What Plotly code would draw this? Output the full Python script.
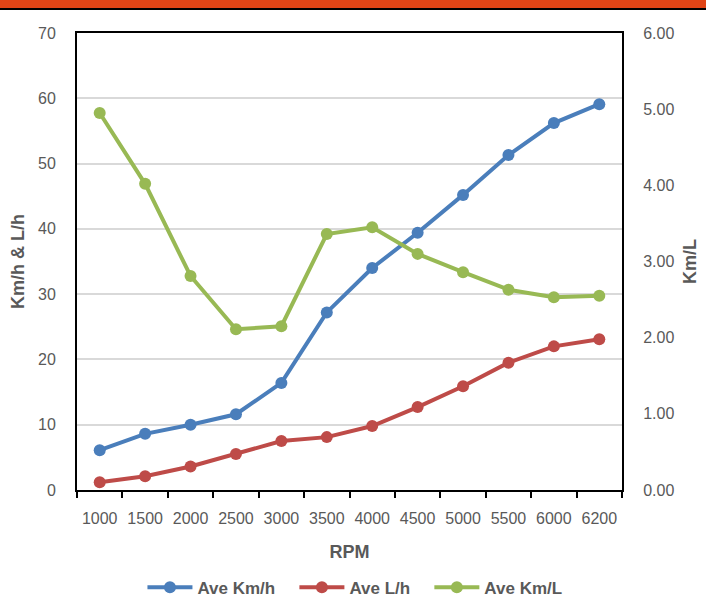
import plotly.graph_objects as go

rpm = ["1000", "1500", "2000", "2500", "3000", "3500", "4000", "4500", "5000", "5500", "6000", "6200"]
ave_kmh = [6.1, 8.6, 10.0, 11.6, 16.4, 27.2, 34.0, 39.4, 45.2, 51.3, 56.2, 59.1]
ave_lh = [1.2, 2.1, 3.6, 5.5, 7.5, 8.1, 9.8, 12.7, 15.9, 19.5, 22.0, 23.1]
ave_kml = [4.95, 4.02, 2.81, 2.11, 2.15, 3.36, 3.45, 3.10, 2.86, 2.63, 2.53, 2.55]

BLUE = "#4A7EBB"
RED = "#BE4B48"
GREEN = "#98B954"
GRAY = "#595959"
FONT = "Liberation Sans"
PAD = "\u00a0\u00a0\u00a0"

fig = go.Figure()
fig.add_trace(go.Scatter(x=rpm, y=ave_kmh, name="Ave Km/h" + PAD, mode="lines+markers",
                         line=dict(color=BLUE, width=4), marker=dict(size=12, color=BLUE)))
fig.add_trace(go.Scatter(x=rpm, y=ave_lh, name="Ave L/h" + PAD, mode="lines+markers",
                         line=dict(color=RED, width=4), marker=dict(size=12, color=RED)))
fig.add_trace(go.Scatter(x=rpm, y=ave_kml, name="Ave Km/L", mode="lines+markers", yaxis="y2",
                         line=dict(color=GREEN, width=4), marker=dict(size=12, color=GREEN)))

fig.update_layout(
    width=706, height=608,
    margin=dict(l=77, r=84, t=33, b=118, autoexpand=False),
    paper_bgcolor="white", plot_bgcolor="white",
    font=dict(family=FONT, color=GRAY, size=16),
    xaxis=dict(
        type="category", range=[-0.5, len(rpm) - 0.5], tickson="boundaries",
        ticks="outside", ticklen=6, tickwidth=2,
        tickcolor="black", showline=True, linecolor="black", linewidth=2, mirror=True,
        showgrid=False, tickfont=dict(size=16, color=GRAY), ticklabelstandoff=13,
        tickangle=0, automargin=False,
        title=dict(text="<b>RPM</b>", font=dict(size=18, color=GRAY), standoff=19),
    ),
    yaxis=dict(
        range=[0, 70], dtick=10, showgrid=True, gridcolor="#D9D9D9", gridwidth=1.5,
        showline=True, linecolor="black", linewidth=2, ticks="", zeroline=False,
        tickfont=dict(size=16, color=GRAY), ticklabelstandoff=16, automargin=False,
        title=dict(text="<b>Km/h & L/h</b>", font=dict(size=18, color=GRAY), standoff=9),
    ),
    yaxis2=dict(
        range=[0, 6], dtick=1, tickformat=".2f", overlaying="y", side="right",
        showgrid=False, showline=True, linecolor="black", linewidth=2, ticks="",
        zeroline=False, tickfont=dict(size=16, color=GRAY), ticklabelstandoff=16,
        automargin=False,
        title=dict(text="<b>Km/L</b>", font=dict(size=18, color=GRAY), standoff=10),
    ),
    legend=dict(orientation="h", x=0.51, xanchor="center", y=-0.214, yanchor="middle",
                font=dict(size=17, color=GRAY, weight="bold"), itemwidth=45,
                bgcolor="rgba(0,0,0,0)"),
    showlegend=True,
    shapes=[
        dict(type="rect", xref="paper", yref="paper", x0=-0.5, x1=1.5,
             y0=1 + 25 / 457, y1=1 + 40 / 457, fillcolor="#E04416", line=dict(width=0)),
        dict(type="line", xref="paper", yref="paper", x0=-0.5, x1=1.5,
             y0=1 + 24 / 457, y1=1 + 24 / 457, line=dict(color="black", width=2)),
    ],
)

fig.write_html("out.html", config={"displayModeBar": False},
               post_script="document.body.style.margin='0';")
